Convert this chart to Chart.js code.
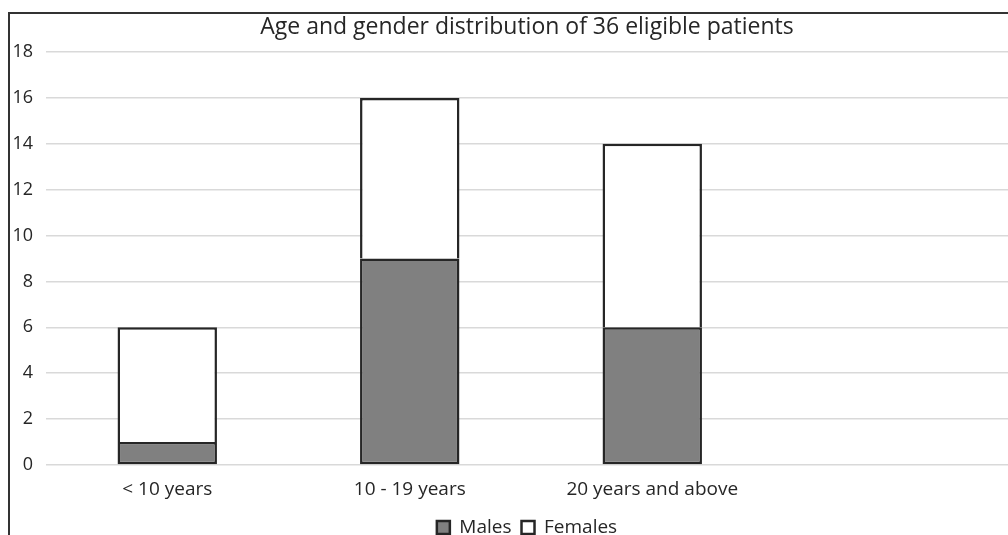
<!DOCTYPE html>
<html>
<head>
<meta charset="utf-8">
<script src="https://cdn.jsdelivr.net/npm/chart.js@4/dist/chart.umd.min.js"></script>
<style>
  html, body { margin: 0; padding: 0; background: #fff; overflow: hidden; }
  #frame {
    position: absolute; left: 8px; top: 12px;
    border-top: 2px solid #333; border-left: 2px solid #333;
  }
  #wrap { position: relative; width: 1034px; height: 533px; }
</style>
</head>
<body>
<div id="frame"><div id="wrap"><canvas id="age-chart"></canvas></div></div>
<script>
// age groups and patient counts
const ageGroups = ['< 10 years', '10 - 19 years', '20 years and above', ''];
const males = [1, 9, 6, null];
const females = [5, 7, 8, null];
const yTicks = [0, 2, 4, 6, 8, 10, 12, 14, 16, 18];

const textColor = '#262626';
const font = 'Open Sans';

new Chart(document.querySelector('#age-chart').getContext('2d'), {
    type: 'bar',
    data: {
        labels: ageGroups,
        datasets: [{
            label: 'Males',
            data: males,
            backgroundColor: '#808080',
            borderColor: '#262626',
            borderWidth: 2.5,
            borderSkipped: false,
            barPercentage: 0.41,
            categoryPercentage: 1
        }, {
            label: 'Females',
            data: females,
            backgroundColor: '#fff',
            borderColor: '#262626',
            borderWidth: 2.5,
            borderSkipped: 'start',
            barPercentage: 0.41,
            categoryPercentage: 1
        }]
    },
    options: {
        responsive: true,
        maintainAspectRatio: false,
        animation: false,
        layout: { padding: 0 },
        plugins: {
            title: {
                display: true,
                text: 'Age and gender distribution of 36 eligible patients',
                color: textColor,
                font: { family: font, size: 23, weight: 'normal' },
                padding: { top: 0, bottom: 10.4 }
            },
            legend: {
                position: 'bottom',
                labels: {
                    color: textColor,
                    font: { family: font, size: 19 },
                    boxWidth: 13,
                    boxHeight: 13,
                    padding: 10
                }
            },
            tooltip: { enabled: false }
        },
        scales: {
            x: {
                stacked: true,
                grid: { display: false, drawTicks: false },
                border: { display: false },
                ticks: { color: textColor, font: { family: font, size: 19 }, padding: 13 },
                afterFit: s => { s.height = 43 }
            },
            y: {
                stacked: true,
                min: 0,
                max: 18,
                grid: { color: '#d9d9d9', lineWidth: 1.5, drawTicks: false },
                border: { display: false },
                afterBuildTicks: s => { s.ticks = yTicks.map(v => ({ value: v })) },
                ticks: { color: textColor, font: { family: font, size: 18 }, padding: 13 },
                afterFit: s => { s.width = 36 }
            },
            // empty axis that keeps room on the right of the plot
            pad: {
                position: 'right',
                display: true,
                grid: { display: false, drawTicks: false },
                border: { display: false },
                ticks: { display: false },
                afterFit: s => { s.width = 28 }
            }
        }
    }
});
</script>
</body>
</html>
